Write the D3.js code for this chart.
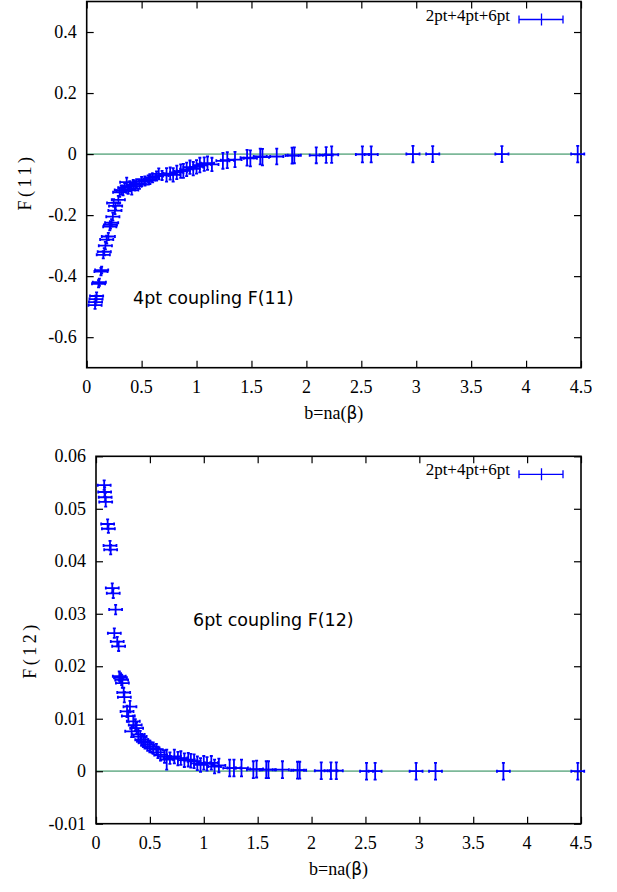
<!DOCTYPE html>
<html>
<head>
<meta charset="utf-8">
<script src="https://cdn.jsdelivr.net/npm/d3@7"></script>
<style>
body { margin: 0; background: #fff; }
</style>
</head>
<body>
<script>
// b = na(beta) values shared by both panels
var bVals = [0.076, 0.080, 0.085, 0.090, 0.108, 0.115, 0.130, 0.136, 0.151, 0.160,
             0.170, 0.182, 0.197, 0.210, 0.216, 0.227, 0.238, 0.245, 0.257, 0.263,
             0.288, 0.300, 0.315, 0.331, 0.346, 0.364, 0.377, 0.392, 0.41, 0.424,
             0.44, 0.455, 0.48, 0.50, 0.53, 0.56, 0.575, 0.60, 0.636, 0.656,
             0.686, 0.727, 0.76, 0.787, 0.82, 0.856, 0.88, 0.91, 0.94, 0.97,
             1.0, 1.03, 1.07, 1.10, 1.14, 1.24, 1.28, 1.35, 1.46, 1.49,
             1.58, 1.60, 1.73, 1.87, 1.89, 2.09, 2.18, 2.23, 2.51, 2.59,
             2.97, 3.15, 3.78, 4.47];
var bErr = 0.06;

var f11 = [-0.495, -0.485, -0.475, -0.465, -0.425, -0.42, -0.385, -0.38, -0.33, -0.32,
           -0.30, -0.28, -0.27, -0.238, -0.232, -0.225, -0.205, -0.16, -0.185, -0.17,
           -0.15, -0.125, -0.118, -0.12, -0.11, -0.092, -0.115, -0.105, -0.118, -0.10,
           -0.105, -0.097, -0.098, -0.09, -0.088, -0.085, -0.082, -0.078, -0.072, -0.065,
           -0.07, -0.068, -0.064, -0.068, -0.06, -0.056, -0.055, -0.05, -0.043, -0.048,
           -0.042, -0.036, -0.033, -0.03, -0.034, -0.022, -0.02, -0.018, -0.012, -0.014,
           -0.008, -0.01, -0.008, -0.005, -0.004, -0.004, -0.003, -0.002, -0.001, -0.001,
           0, 0, 0, 0];
var f11Err = [0.012, 0.011, 0.012, 0.012, 0.012, 0.012, 0.012, 0.011, 0.012, 0.012,
              0.012, 0.013, 0.012, 0.012, 0.012, 0.012, 0.013, 0.012, 0.012, 0.012,
              0.013, 0.015, 0.015, 0.015, 0.014, 0.015, 0.015, 0.016, 0.015, 0.015,
              0.015, 0.015, 0.016, 0.015, 0.015, 0.015, 0.016, 0.015, 0.015, 0.018,
              0.015, 0.022, 0.02, 0.022, 0.022, 0.022, 0.023, 0.022, 0.022, 0.022,
              0.022, 0.024, 0.022, 0.022, 0.022, 0.026, 0.026, 0.025, 0.026, 0.026,
              0.026, 0.027, 0.026, 0.026, 0.026, 0.026, 0.026, 0.027, 0.026, 0.026,
              0.027, 0.026, 0.026, 0.027];

var f12 = [0.0545, 0.0532, 0.0522, 0.0513, 0.0471, 0.0462, 0.0430, 0.0422, 0.0349, 0.0339,
           0.0263, 0.0308, 0.0247, 0.0238, 0.0181, 0.0178, 0.0174, 0.0168, 0.0150, 0.0141,
           0.0114, 0.0105, 0.0123, 0.0076, 0.0095, 0.0088, 0.0082, 0.0070, 0.0066, 0.0060,
           0.0057, 0.0054, 0.0050, 0.0047, 0.0044, 0.0041, 0.0036, 0.0031, 0.0028, 0.0022,
           0.0025, 0.0028, 0.0024, 0.0025, 0.0021, 0.0022, 0.0020, 0.0019, 0.0015, 0.0012,
           0.0016, 0.0014, 0.0016, 0.0009, 0.0011, 0.0006, 0.0006, 0.0006, 0.0003, 0.0004,
           0.0003, 0.0003, 0.0003, 0.0002, 0.0002, 0.0001, 0.0001, 0.0001, 0, 0,
           0, 0, 0, 0];
var f12Err = [0.0009, 0.0009, 0.0008, 0.0009, 0.0009, 0.0008, 0.0009, 0.0009, 0.0009, 0.0009,
              0.0009, 0.0009, 0.0009, 0.0009, 0.0009, 0.0009, 0.0010, 0.0009, 0.0009, 0.0010,
              0.0011, 0.0011, 0.0011, 0.0011, 0.0011, 0.0011, 0.0011, 0.0011, 0.0011, 0.0011,
              0.0011, 0.0011, 0.0011, 0.0011, 0.0011, 0.0011, 0.0011, 0.0011, 0.0012, 0.0019,
              0.0011, 0.0013, 0.0013, 0.0013, 0.0013, 0.0013, 0.0013, 0.0013, 0.0013, 0.0013,
              0.0013, 0.0013, 0.0013, 0.0013, 0.0013, 0.0016, 0.0016, 0.0016, 0.0016, 0.0016,
              0.0016, 0.0016, 0.0016, 0.0016, 0.0016, 0.0016, 0.0016, 0.0016, 0.0016, 0.0016,
              0.0016, 0.0016, 0.0016, 0.0016];

var xTicks = [0, 0.5, 1, 1.5, 2, 2.5, 3, 3.5, 4, 4.5];
var f11Ticks = [-0.6, -0.4, -0.2, 0, 0.2, 0.4];
var f12Ticks = [-0.01, 0, 0.01, 0.02, 0.03, 0.04, 0.05, 0.06];
var legendLabel = "2pt+4pt+6pt";

var width = 617,
    height = 892,
    tickLen = 7,
    cap = 1.5,
    serif = "Liberation Serif",
    sans = "DejaVu Sans",
    blue = "#0000ff",
    zeroColor = "#7cb899";

var svg = d3.select("body")
            .append("svg")
            .attr("width", width)
            .attr("height", height);

function drawPanel(p) {
  var x = d3.scaleLinear().domain([0, 4.5]).range([p.left, p.right]),
      y = d3.scaleLinear().domain(p.yDomain).range([p.bottom, p.top]);

  var g = svg.append("g");

  // zero line
  g.append("line")
   .attr("x1", x(0)).attr("x2", x(4.5))
   .attr("y1", y(0)).attr("y2", y(0))
   .attr("stroke", zeroColor)
   .attr("stroke-width", 1.8);

  // inward ticks on all four sides
  var axes = g.append("g");
  axes.append("g")
   .attr("transform", "translate(0," + p.bottom + ")")
   .call(d3.axisBottom(x).tickValues(xTicks).tickFormat("").tickSize(-tickLen));
  axes.append("g")
   .attr("transform", "translate(0," + p.top + ")")
   .call(d3.axisTop(x).tickValues(xTicks).tickFormat("").tickSize(-tickLen));
  axes.append("g")
   .attr("transform", "translate(" + p.left + ",0)")
   .call(d3.axisLeft(y).tickValues(p.yTicks).tickFormat("").tickSize(-tickLen));
  axes.append("g")
   .attr("transform", "translate(" + p.right + ",0)")
   .call(d3.axisRight(y).tickValues(p.yTicks).tickFormat("").tickSize(-tickLen));
  axes.selectAll(".domain").remove();
  axes.selectAll(".tick text").remove();
  axes.selectAll(".tick line").attr("stroke", "#000").attr("stroke-width", 1.2);

  // tick labels
  g.append("g").selectAll("text")
   .data(xTicks).enter().append("text")
   .attr("x", function(d){ return x(d); })
   .attr("y", p.bottom + 25)
   .attr("text-anchor", "middle")
   .style("font-family", serif)
   .style("font-size", "18px")
   .text(function(d){ return String(d); });
  g.append("g").selectAll("text")
   .data(p.yTicks).enter().append("text")
   .attr("x", p.left - 10)
   .attr("y", function(d){ return y(d) + 6; })
   .attr("text-anchor", "end")
   .style("font-family", serif)
   .style("font-size", "18px")
   .text(function(d){ return String(d); });

  g.append("rect")
   .attr("x", p.left).attr("y", p.top)
   .attr("width", p.right - p.left).attr("height", p.bottom - p.top)
   .attr("fill", "none")
   .attr("stroke", "#000")
   .attr("stroke-width", 1.6);

  // error bars
  var pts = bVals.map(function(b, i){ return {b: b, v: p.vals[i], e: p.errs[i]}; });
  var eb = g.append("g").attr("stroke", blue).attr("stroke-width", 1.8).attr("fill", "none");
  pts.forEach(function(d){
    var cx = x(d.b), cy = y(d.v),
        x0 = x(d.b - bErr), x1 = x(d.b + bErr),
        y0 = y(d.v - d.e), y1 = y(d.v + d.e);
    var path = "M" + x0 + "," + cy + "H" + x1 +
               "M" + x0 + "," + (cy - cap) + "V" + (cy + cap) +
               "M" + x1 + "," + (cy - cap) + "V" + (cy + cap) +
               "M" + cx + "," + y0 + "V" + y1 +
               "M" + (cx - cap) + "," + y0 + "H" + (cx + cap) +
               "M" + (cx - cap) + "," + y1 + "H" + (cx + cap);
    eb.append("path").attr("d", path);
  });

  // legend
  var ly = p.top + 18;
  g.append("text")
   .attr("x", 510).attr("y", ly + 1)
   .attr("text-anchor", "end")
   .style("font-family", serif)
   .style("font-size", "17px")
   .text(legendLabel);
  g.append("path")
   .attr("d", "M519," + ly + "H563M519," + (ly - 4) + "V" + (ly + 4) +
              "M563," + (ly - 4) + "V" + (ly + 4) + "M541.5," + (ly - 6) + "V" + (ly + 6))
   .attr("stroke", blue).attr("stroke-width", 1.3).attr("fill", "none");

  // axis labels
  g.append("text")
   .attr("transform", "translate(" + p.yLabelX + "," + p.yLabelY + ") rotate(-90)")
   .attr("text-anchor", "middle")
   .attr("dy", "0.35em")
   .style("font-family", serif)
   .style("font-size", "18px")
   .style("letter-spacing", "3.5px")
   .text(p.yLabel);

  var xl = g.append("text")
   .attr("x", (p.left + p.right) / 2)
   .attr("y", p.bottom + 51)
   .attr("text-anchor", "middle")
   .style("font-family", serif)
   .style("font-size", "18px");
  xl.append("tspan").text("b=na(");
  xl.append("tspan").style("font-family", sans).style("font-size", "17px").text("\u03b2");
  xl.append("tspan").text(")");

  g.append("text")
   .attr("x", p.noteX).attr("y", p.noteY)
   .style("font-family", sans)
   .style("font-size", "17.5px")
   .text(p.note);
}

drawPanel({left: 86.7, right: 581, top: 1.5, bottom: 367.7,
           yDomain: [-0.7, 0.5], yTicks: f11Ticks,
           vals: f11, errs: f11Err,
           yLabel: "F(11)", yLabelX: 25, yLabelY: 182,
           note: "4pt coupling F(11)", noteX: 133, noteY: 304});

drawPanel({left: 96, right: 581, top: 456.3, bottom: 823.7,
           yDomain: [-0.01, 0.06], yTicks: f12Ticks,
           vals: f12, errs: f12Err,
           yLabel: "F(12)", yLabelX: 30, yLabelY: 650,
           note: "6pt coupling F(12)", noteX: 193, noteY: 626});
</script>
</body>
</html>
